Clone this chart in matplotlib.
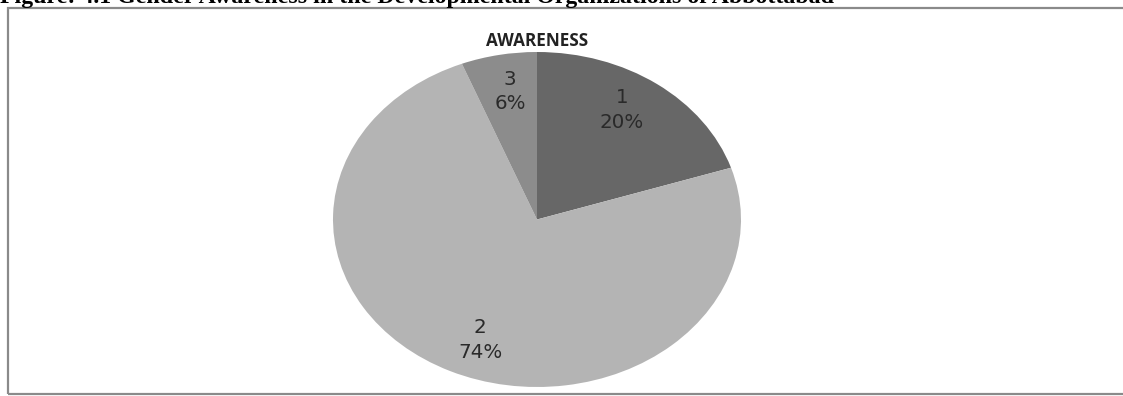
import matplotlib.pyplot as plt
from matplotlib.patches import Rectangle

# Survey responses on gender awareness
categories = ["1", "2", "3"]
shares = [20, 74, 6]
colors = ["#676767", "#b4b4b4", "#8c8c8c"]

# label spots inside each wedge (pie units)
label_pos = [(0.417, 0.654), (-0.279, -0.72), (-0.132, 0.764)]

W, H = 1123, 396
fig = plt.figure(figsize=(W / 100, H / 100), dpi=100)
fig.patch.set_facecolor("white")

# outer frame of the chart area
fig.patches.append(Rectangle((8 / W, 2 / H), 1.2, (H - 10) / H,
                             transform=fig.transFigure, fill=False,
                             edgecolor="#8a8a8a", linewidth=1.6))

# caption above the frame, clipped by the top of the page
fig.text(0.0, 1 - 3.5 / H,
         "Figure: 4.1 Gender Awareness in the Developmental Organizations of Abbottabad",
         family="Liberation Serif", weight="bold", fontsize=17.2,
         ha="left", va="baseline")

fig.text(537 / W, 1 - 41 / H, "AWARENESS", family="Open Sans", weight="bold",
         fontsize=12.3, ha="center", va="center", color="#222222")

ax = fig.add_axes([333 / W, 9 / H, 408 / W, 335 / H])
wedges, _ = ax.pie(shares, colors=colors, startangle=90, counterclock=False,
                   radius=1, wedgeprops=dict(linewidth=0))
ax.set_aspect("auto")
ax.set_xlim(-1, 1)
ax.set_ylim(-1, 1)
ax.axis("off")

for cat, val, (x, y) in zip(categories, shares, label_pos):
    ax.text(x, y, f"{cat}\n{val}%", ha="center", va="center",
            family="DejaVu Sans", fontsize=14.3, color="#2a2a2a",
            linespacing=1.35)

fig.savefig("out.png", dpi=100, facecolor="white")
